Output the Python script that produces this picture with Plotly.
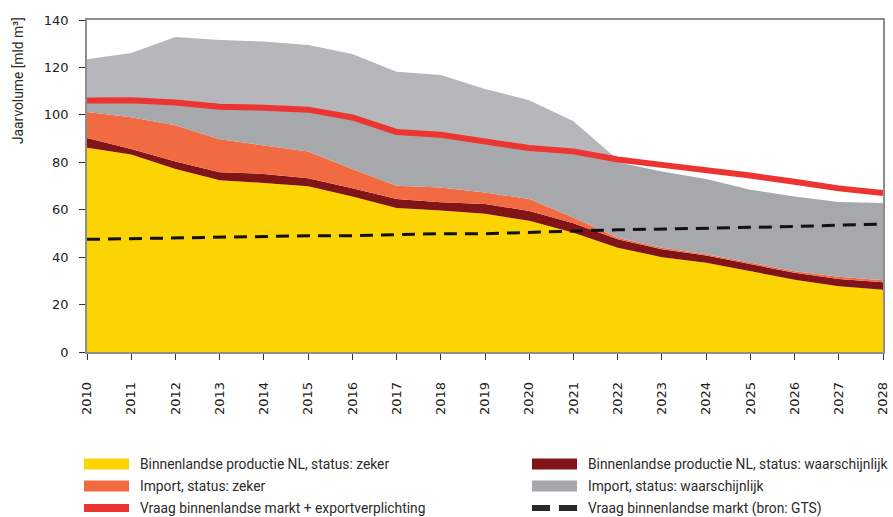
import numpy as np
import plotly.graph_objects as go

years = list(range(2010, 2029))

# Series values (mld m3 per year)
prod_nl_zeker = [86.1, 83.3, 77.2, 72.4, 71.3, 69.9, 65.6, 60.7, 59.7, 58.3,
                 55.3, 50.3, 44.0, 40.0, 37.6, 34.1, 30.5, 27.7, 26.3]
prod_nl_waarschijnlijk = [4.1, 2.3, 3.1, 3.4, 3.8, 3.4, 3.4, 3.8, 3.4, 4.1,
                          4.2, 4.0, 3.5, 3.3, 3.1, 2.8, 2.9, 3.1, 3.1]
import_zeker = [11.0, 13.4, 15.3, 13.9, 12.0, 11.3, 8.2, 5.6, 6.3, 4.9,
                5.0, 2.4, 0.7, 0.7, 0.5, 0.7, 0.7, 0.9, 0.9]
import_waarschijnlijk = [22.3, 27.1, 37.2, 41.9, 43.8, 44.9, 48.5, 48.1, 47.4, 43.6,
                         41.7, 40.6, 31.8, 32.1, 31.8, 30.8, 31.5, 31.6, 32.5]
vraag_export = [106.1, 106.2, 105.2, 103.4, 103.0, 102.2, 98.9, 92.8, 91.6, 88.8,
                86.0, 84.6, 81.2, 78.9, 76.9, 74.4, 71.8, 69.0, 67.0]
vraag_gts = [47.5, 47.8, 48.2, 48.2, 48.6, 49.0, 49.0, 49.4, 49.9, 49.9,
             50.3, 51.0, 51.5, 51.8, 52.1, 52.5, 52.9, 53.5, 53.9]

y_ticks = [0, 20, 40, 60, 80, 100, 120, 140]
legend_labels = [
    "Binnenlandse productie NL, status: zeker",
    "Import, status: zeker",
    "Vraag binnenlandse markt + exportverplichting",
    "Binnenlandse productie NL, status: waarschijnlijk",
    "Import, status: waarschijnlijk",
    "Vraag binnenlandse markt (bron: GTS)",
]
y_title = "Jaarvolume [mld m³]"

C_YELLOW = "#FDD403"
C_DARKRED = "#811417"
C_ORANGE = "#F26A42"
C_GREY = "#A7A8AB"
C_GREY_LIGHT = "#B6B7BA"
C_RED = "#EC3530"
C_DASH = "#111111"

cum1 = np.array(prod_nl_zeker)
cum2 = cum1 + np.array(prod_nl_waarschijnlijk)
cum3 = cum2 + np.array(import_zeker)
total = cum3 + np.array(import_waarschijnlijk)
demand = np.array(vraag_export)
grey_low = np.minimum(total, demand)
grey_high = np.maximum(total, demand)

fig = go.Figure()
fig.add_trace(go.Scatter(x=years, y=cum1, mode="lines", fill="tozeroy",
                         fillcolor=C_YELLOW, line=dict(width=0, color=C_YELLOW),
                         showlegend=False, name=legend_labels[0]))
fig.add_trace(go.Scatter(x=years, y=cum2, mode="lines", fill="tonexty",
                         fillcolor=C_DARKRED, line=dict(width=0, color=C_DARKRED),
                         showlegend=False, name=legend_labels[3]))
fig.add_trace(go.Scatter(x=years, y=cum3, mode="lines", fill="tonexty",
                         fillcolor=C_ORANGE, line=dict(width=0, color=C_ORANGE),
                         showlegend=False, name=legend_labels[1]))
fig.add_trace(go.Scatter(x=years, y=grey_low, mode="lines", fill="tonexty",
                         fillcolor=C_GREY, line=dict(width=0, color=C_GREY),
                         showlegend=False, name=legend_labels[4]))
fig.add_trace(go.Scatter(x=years, y=demand, mode="lines",
                         line=dict(width=0, color=C_GREY_LIGHT),
                         showlegend=False, hoverinfo="skip"))
fig.add_trace(go.Scatter(x=years, y=grey_high, mode="lines", fill="tonexty",
                         fillcolor=C_GREY_LIGHT, line=dict(width=0, color=C_GREY_LIGHT),
                         showlegend=False, hoverinfo="skip"))
fig.add_trace(go.Scatter(x=years, y=demand, mode="lines",
                         line=dict(width=6, color=C_RED),
                         showlegend=False, name=legend_labels[2]))
fig.add_trace(go.Scatter(x=years, y=vraag_gts, mode="lines",
                         line=dict(width=3, color=C_DASH, dash="13px,8px"),
                         showlegend=False, name=legend_labels[5]))

# plot area in pixels: x 87..883, y 20..352
L, R, T, B = 87, 883, 20, 352


def px(xp):
    return (xp - L) / (R - L)


def py(yp):
    return (B - yp) / (B - T)


shapes = []
annotations = []
LEG_FONT = dict(family="Liberation Sans Narrow, Roboto, Arial Narrow, sans-serif",
                size=13.8, color="#2b2b2b")
rows = [464, 486, 508]
cols = [(84, 129, 138), (532, 577, 586)]
swatch_styles = [C_YELLOW, C_ORANGE, "redline", C_DARKRED, C_GREY, "dash"]
for i, lab in enumerate(legend_labels):
    c = cols[i // 3]
    r = rows[i % 3]
    st = swatch_styles[i]
    if st == "redline":
        shapes.append(dict(type="rect", xref="paper", yref="paper",
                           x0=px(c[0]), x1=px(c[1]), y0=py(r + 4), y1=py(r - 4),
                           fillcolor=C_RED, line=dict(width=0)))
    elif st == "dash":
        for a, b in [(c[0], c[0] + 18), (c[0] + 27, c[1])]:
            shapes.append(dict(type="rect", xref="paper", yref="paper",
                               x0=px(a), x1=px(b), y0=py(r + 3), y1=py(r - 3),
                               fillcolor="#2a2a2a", line=dict(width=0)))
    else:
        shapes.append(dict(type="rect", xref="paper", yref="paper",
                           x0=px(c[0]), x1=px(c[1]), y0=py(r + 5.5), y1=py(r - 5.5),
                           fillcolor=st, line=dict(width=0)))
    annotations.append(dict(text=lab, xref="paper", yref="paper", x=px(c[2]), y=py(r),
                            xanchor="left", yanchor="middle", showarrow=False,
                            font=LEG_FONT))

annotations.append(dict(text=y_title, xref="paper", yref="paper", x=px(18), y=py(81),
                        xanchor="center", yanchor="middle", textangle=-90,
                        showarrow=False, font=LEG_FONT))

TICK_FONT = dict(family="DejaVu Sans, Verdana, sans-serif", size=13, color="#222222")

fig.update_layout(
    width=893, height=517, autosize=False,
    margin=dict(l=L, r=893 - R, t=T, b=517 - B, pad=0, autoexpand=False),
    paper_bgcolor="white", plot_bgcolor="white",
    showlegend=False,
    shapes=shapes, annotations=annotations,
    xaxis=dict(range=[2010, 2028], tickmode="array", tickvals=years,
               ticktext=[str(y) for y in years], tickangle=-90,
               ticks="outside", ticklen=6, tickcolor="#333333", tickwidth=1.2,
               showline=True, linecolor="#8d8d8d", linewidth=1.5, mirror=True,
               showgrid=False, zeroline=False, tickfont=TICK_FONT,
               ticklabelstandoff=17, automargin=False),
    yaxis=dict(range=[0, 140], tickmode="array", tickvals=y_ticks,
               ticks="outside", ticklen=6, tickcolor="#333333", tickwidth=1.2,
               showline=True, linecolor="#8d8d8d", linewidth=1.5, mirror=True,
               showgrid=False, zeroline=False, tickfont=TICK_FONT,
               ticklabelstandoff=8, automargin=False),
)

fig.write_html("out.html", config={"displayModeBar": False},
               post_script="document.body.style.margin='0';document.body.style.overflow='hidden';")
